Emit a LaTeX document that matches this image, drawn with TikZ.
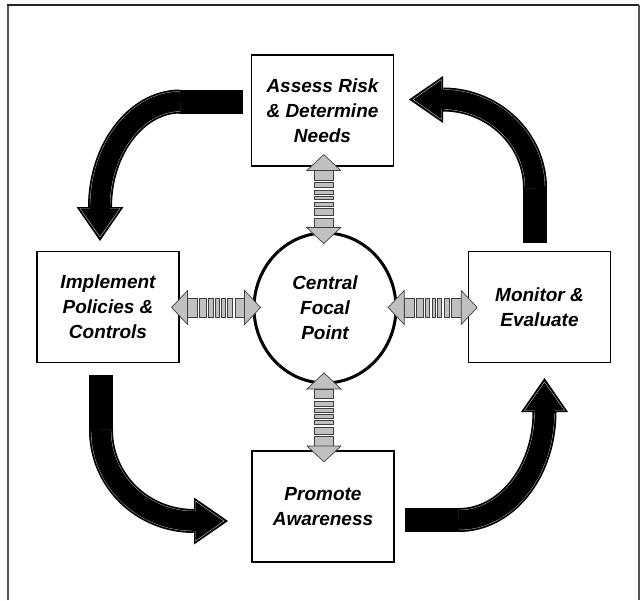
\documentclass[tikz,border=0pt]{standalone}
\usepackage{fontspec}
\setmainfont{Liberation Sans}
\usetikzlibrary{shapes.geometric,calc}
\definecolor{arrgray}{HTML}{C0C0C0}
\definecolor{arrline}{HTML}{404040}
\definecolor{framegray}{HTML}{555555}
\begin{document}
\begin{tikzpicture}[x=1pt,y=-1pt,
  txt/.style={align=center,font=\fontsize{19}{25}\selectfont\bfseries\itshape},
  box/.style={txt,draw=black,line width=1.3pt,fill=white,minimum width=142pt,minimum height=111pt,inner sep=0pt},
  hub/.style={txt,draw=black,line width=3pt,fill=white,ellipse,minimum width=142pt,minimum height=150pt,inner sep=0pt},
  bigshaft/.style={line width=24pt,black},
  shaftline/.style={line width=20.4pt,gray!45},
  shaftfill/.style={line width=19.6pt,black},
  graypart/.style={fill=arrgray,draw=arrline,line width=0.7pt,line join=miter},
  pics/bighead/.style={code={
    \fill[black] (-1,-10) rectangle (0.5,10);
    \fill[black] (0,-23.5) -- (34,0) -- (0,23.5) -- cycle;
    \draw[gray!45,line width=0.4pt] (1.5,-10.2) -- (1.5,-20) -- (30,0) -- (1.5,20) -- (1.5,10.2);
  }},
  pics/dblarrow/.style={code={
    \foreach \a/\b in {-28.5/-18.8,-16.5/-9.7,-7.4/-2.9,-0.6/2.9,5.1/9.1,11.4/16.5,18.8/28.5}
      \filldraw[graypart] (\a,-9.5) rectangle (\b,9.5);
    \filldraw[graypart] (-44.5,0) -- (-28.5,-17) -- (-28.5,17) -- cycle;
    \filldraw[graypart] (44.5,0) -- (28.5,-17) -- (28.5,17) -- cycle;
  }}
]
\useasboundingbox (0,0) rectangle (640,600);
\fill[white] (0,0) rectangle (640,600);

% frame
\draw[framegray,line width=2pt] (8,600) -- (8,5);
\draw[black!85,line width=1.5pt] (7,5) -- (639,5);
\draw[framegray,line width=1.5pt] (639,5) -- (639,600);

% nodes
\node[box] (assess) at (322.5,110.5) {Assess Risk\\\& Determine\\Needs};
\node[box] (impl) at (108,307) {Implement\\Policies \&\\Controls};
\node[box] (monitor) at (539.5,307) {Monitor \&\\Evaluate};
\node[box] (promote) at (323,506.5) {Promote\\Awareness};
\node[hub] (circ) at (325,308) {Central\\Focal\\Point};

% gray double arrows (hub <-> boxes)
\pic[rotate=90] at ($(assess.south)!0.5!(circ.north)$) {dblarrow};
\pic at ($(impl.east)!0.5!(circ.west)$) {dblarrow};
\pic at ($(circ.east)!0.5!(monitor.west)$) {dblarrow};
\pic[rotate=90] at ($(circ.south)!0.5!(promote.north)$) {dblarrow};

% big black arrow 1: assess -> implement
\coordinate (a1s) at (243,101.5);
\coordinate (a1m) at (180,101.5);
\coordinate (a1e) at (100,207);
\draw[bigshaft] (a1s) -- ($(a1m)+(-1.5,0)$);
\foreach \s in {bigshaft,shaftline,shaftfill}
  \draw[\s] (a1m) .. controls (136.9,101.5) and (100,148.7) .. (a1e);
\pic[rotate=-90] at (a1e) {bighead};

% big black arrow 2: monitor -> assess
\coordinate (a2s) at (535,243);
\coordinate (a2m) at (535,188);
\coordinate (a2e) at (443,99.5);
\draw[bigshaft] (a2s) -- ($(a2m)+(0,-1.5)$);
\foreach \s in {bigshaft,shaftline,shaftfill}
  \draw[\s] (a2m) .. controls (535,139.4) and (493.4,99.5) .. (a2e);
\pic[rotate=180] at (a2e) {bighead};

% big black arrow 3: implement -> promote
\coordinate (a3s) at (101,375);
\coordinate (a3m) at (101,430);
\coordinate (a3e) at (194,521);
\draw[bigshaft] (a3s) -- ($(a3m)+(0,1.5)$);
\foreach \s in {bigshaft,shaftline,shaftfill}
  \draw[\s] (a3m) .. controls (101,480.3) and (142.1,521) .. (a3e);
\pic at (a3e) {bighead};

% big black arrow 4: promote -> monitor
\coordinate (a4s) at (405,520);
\coordinate (a4m) at (459,520);
\coordinate (a4e) at (544.5,412);
\draw[bigshaft] (a4s) -- ($(a4m)+(1.5,0)$);
\foreach \s in {bigshaft,shaftline,shaftfill}
  \draw[\s] (a4m) .. controls (506.2,520) and (544.5,471.6) .. (a4e);
\pic[rotate=90] at (a4e) {bighead};
\end{tikzpicture}
\end{document}
